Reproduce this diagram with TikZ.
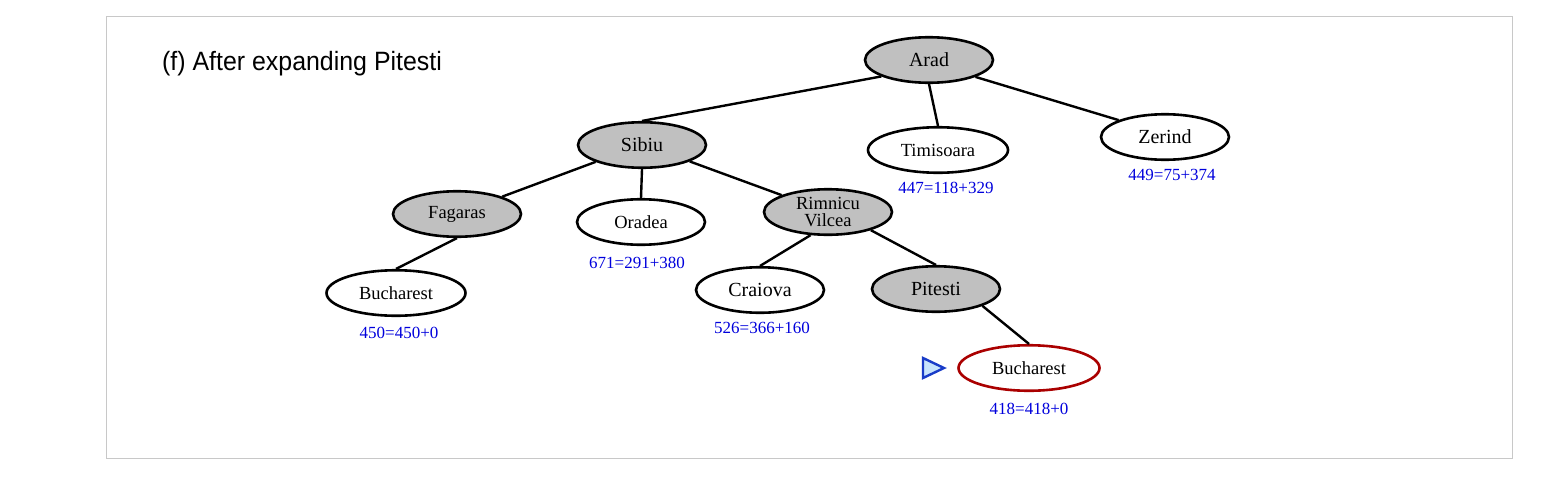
\documentclass[tikz,border=0pt]{standalone}
\usepackage{fontspec}
\setmainfont{Liberation Serif}
\newfontfamily\titlefont{Liberation Sans}
\usetikzlibrary{shapes.geometric}
\definecolor{nodegray}{RGB}{192,192,192}
\definecolor{labelblue}{RGB}{0,0,220}
\definecolor{goalred}{RGB}{170,0,0}
\definecolor{markblue}{RGB}{25,60,200}
\definecolor{markfill}{RGB}{200,228,252}
\definecolor{framegray}{RGB}{200,200,200}
\begin{document}
\begin{tikzpicture}[x=1pt,y=-1pt,
  tnode/.style={ellipse,draw=black,line width=2.6pt,inner sep=0pt,minimum width=128pt,minimum height=45.5pt},
  expanded/.style={tnode,fill=nodegray},
  leaf/.style={tnode,fill=white},
  big/.style={font=\fontsize{20}{22}\selectfont},
  small/.style={font=\fontsize{18.5}{17}\selectfont},
  flabel/.style={text=labelblue,font=\fontsize{17}{19}\selectfont,inner sep=0pt},
  edge/.style={line width=2.4pt}]
\useasboundingbox (0,0) rectangle (1557,477);
\draw[framegray,line width=1pt] (106,16) rectangle (1512,458);
\node[anchor=base west,inner sep=0pt,xscale=0.94,font=\titlefont\fontsize{26.5}{30}\selectfont] (title) at (162,70) {(f) After expanding Pitesti};

\node[expanded,big] (arad) at (929,60) {Arad};
\node[expanded,big] (sibiu) at (642,145) {Sibiu};
\node[leaf,small,minimum width=140pt] (timisoara) at (938,150) {Timisoara};
\node[leaf,big] (zerind) at (1165,137) {Zerind};
\node[expanded,small] (fagaras) at (457,214) {Fagaras};
\node[leaf,small] (oradea) at (641,222) {Oradea};
\node[expanded,small,align=center] (rimnicu) at (828,212) {Rimnicu\\Vilcea};
\node[leaf,small,minimum width=139pt] (buch1) at (396,293) {Bucharest};
\node[leaf,big] (craiova) at (760,290) {Craiova};
\node[expanded,big] (pitesti) at (936,289) {Pitesti};
\node[leaf,small,draw=goalred,minimum width=141pt] (buch2) at (1029,368) {Bucharest};

\node[flabel] (ltim) at (946,188) {447=118+329};
\node[flabel] (lzer) at (1172,175) {449=75+374};
\node[flabel] (lora) at (637,263) {671=291+380};
\node[flabel] (lbuch1) at (399,333) {450=450+0};
\node[flabel] (lcra) at (762,328) {526=366+160};
\node[flabel] (lbuch2) at (1029,409) {418=418+0};

\coordinate (m1) at (923,358);
\coordinate (m2) at (944,368);
\coordinate (m3) at (923,378);
\draw[markblue,fill=markfill,line width=2.4pt,line join=miter] (m1) -- (m2) -- (m3) -- cycle;

\draw[edge] (arad.199) -- (sibiu.north);
\draw[edge] (arad.south) -- (timisoara.north);
\draw[edge] (arad.340) -- (zerind.160);
\draw[edge] (sibiu.200) -- (fagaras.21);
\draw[edge] (sibiu.south) -- (oradea.north);
\draw[edge] (sibiu.341) -- (rimnicu.160);
\draw[edge] (fagaras.south) -- (buch1.north);
\draw[edge] (rimnicu.233) -- (craiova.north);
\draw[edge] (rimnicu.337) -- (pitesti.north);
\draw[edge] (pitesti.340) -- (buch2.north);
\end{tikzpicture}
\end{document}
